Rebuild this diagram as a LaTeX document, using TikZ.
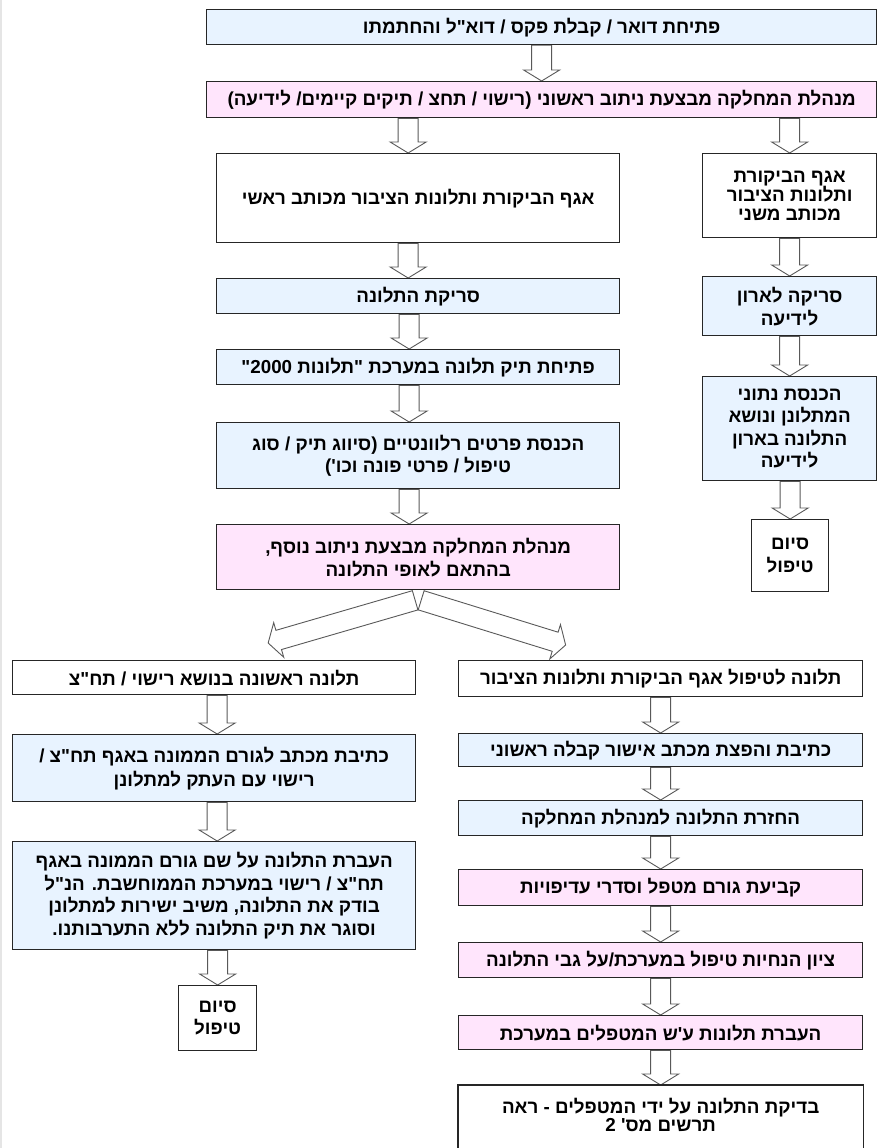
\documentclass[tikz,border=0pt]{standalone}
\usepackage{fontspec}
\newfontfamily\hebfont[Script=Hebrew]{Liberation Sans}
\TeXXeTstate=1
\usepackage{tikz}
\usetikzlibrary{calc, backgrounds}
\definecolor{boxblue}{RGB}{232,243,255}
\definecolor{boxpink}{RGB}{255,229,252}
\newcommand{\rl}[1]{\beginR #1\endR}
\newcommand{\fatarrow}[2]{%
  \path ($(#2)!11pt!(#1)$) coordinate (fa-base);
  \draw[fatline] ($(#1)!10pt!90:(#2)$) -- ($(fa-base)!10pt!90:(#2)$)
    -- ($(fa-base)!18pt!90:(#2)$) -- (#2) -- ($(fa-base)!18pt!-90:(#2)$)
    -- ($(fa-base)!10pt!-90:(#2)$) -- ($(#1)!10pt!-90:(#2)$) -- cycle;}
\newcommand{\flowstep}[3][0]{%
  \path ($(#3.north)+(#1,0)$) coordinate (fa-tip) (fa-tip |- #2.south) coordinate (fa-tail);
  \fatarrow{fa-tail}{fa-tip}}
\tikzset{
  boxline/.style={draw=black!85, line width=1.3pt},
  lines/.style={font=\hebfont\bfseries\fontsize{18.8}{#1}\selectfont},
  box/.style={boxline, anchor=north west, inner sep=2pt, align=center, lines=22.5pt},
  bluebox/.style={box, fill=boxblue},
  pinkbox/.style={box, fill=boxpink},
  fatline/.style={draw=black!65, line width=0.9pt, fill=white}
}

\begin{document}
\begin{tikzpicture}[x=1pt, y=-1pt]
\useasboundingbox (0,0) rectangle (878,1148);
\clip (0,0) rectangle (878,1148);
\draw[black!10, line width=1.5pt] (0.8,0) -- (0.8,1148);

\node[bluebox, minimum width=670pt, minimum height=35pt] (mail) at (206,9)
  {\rl{פתיחת דואר / קבלת פקס / דוא"ל והחתמתו}};
\node[pinkbox, minimum width=670pt, minimum height=36pt] (route) at (206,81)
  {\rl{מנהלת המחלקה מבצעת ניתוב ראשוני (רישוי / תחצ / תיקים קיימים/ לידיעה)}};

\node[box, minimum width=403pt, minimum height=89pt] (main) at (216,153)
  {\rl{אגף הביקורת ותלונות הציבור מכותב ראשי}};
\node[bluebox, minimum width=403pt, minimum height=35pt] (scan) at (216,278)
  {\rl{סריקת התלונה}};
\node[bluebox, minimum width=403pt, minimum height=35pt] (open) at (216,349)
  {\rl{פתיחת תיק תלונה במערכת "תלונות \beginL 2000\endL"}};
\node[bluebox, minimum width=403pt, minimum height=66pt] (details) at (216,422)
  {\rl{הכנסת פרטים רלוונטיים (סיווג תיק / סוג}\\\rl{טיפול / פרטי פונה וכו')}};
\node[pinkbox, lines=23pt, minimum width=403pt, minimum height=65pt] (reroute) at (216,524)
  {\rl{מנהלת המחלקה מבצעת ניתוב נוסף,}\\\rl{בהתאם לאופי התלונה}};

\node[box, lines=18.7pt, minimum width=174pt, minimum height=84pt] (sec) at (702,153)
  {\rl{אגף הביקורת}\\\rl{ותלונות הציבור}\\\rl{מכותב משני}};
\node[bluebox, lines=23pt, minimum width=174pt, minimum height=59pt] (sscan) at (702,276)
  {\rl{סריקה לארון}\\\rl{לידיעה}};
\node[bluebox, minimum width=174pt, minimum height=104pt] (sdata) at (702,376)
  {\rl{הכנסת נתוני}\\\rl{המתלונן ונושא}\\\rl{התלונה בארון}\\\rl{לידיעה}};
\node[box, minimum width=77pt, minimum height=72pt] (send) at (751,519)
  {\rl{סיום}\\\rl{טיפול}};

\node[box, minimum width=403pt, minimum height=34pt] (first) at (12,660)
  {\rl{תלונה ראשונה בנושא רישוי / תח"צ}};
\node[bluebox, lines=24pt, minimum width=403pt, minimum height=67pt] (letter) at (12,734)
  {\rl{כתיבת מכתב לגורם הממונה באגף תח"צ /}\\\rl{רישוי עם העתק למתלונן}};
\node[bluebox, minimum width=403pt, minimum height=108pt] (transfer) at (12,841)
  {\rl{העברת התלונה על שם גורם הממונה באגף}\\\rl{תח"צ / רישוי במערכת הממוחשבת. הנ"ל}\\
   \rl{בודק את התלונה, משיב ישירות למתלונן}\\\rl{וסוגר את תיק התלונה ללא התערבותנו.}};
\node[box, minimum width=78pt, minimum height=65pt] (lend) at (178,985)
  {\rl{סיום}\\\rl{טיפול}};

\node[box, minimum width=404pt, minimum height=36pt] (handle) at (458,660)
  {\rl{תלונה לטיפול אגף הביקורת ותלונות הציבור}};
\node[bluebox, minimum width=404pt, minimum height=33pt] (confirm) at (458,733)
  {\rl{כתיבת והפצת מכתב אישור קבלה ראשוני}};
\node[bluebox, minimum width=404pt, minimum height=35pt] (back) at (458,800)
  {\rl{החזרת התלונה למנהלת המחלקה}};
\node[pinkbox, minimum width=404pt, minimum height=36pt] (assign) at (458,869)
  {\rl{קביעת גורם מטפל וסדרי עדיפויות}};
\node[pinkbox, minimum width=404pt, minimum height=35pt] (note) at (458,942)
  {\rl{ציון הנחיות טיפול במערכת/על גבי התלונה}};
\node[pinkbox, minimum width=404pt, minimum height=34pt] (pass) at (458,1015)
  {\rl{העברת תלונות ע'ש המטפלים במערכת}};
\node[box, draw=none, lines=15pt, minimum width=404pt, minimum height=59pt] (check) at (458,1085)
  {\rl{בדיקת התלונה על ידי המטפלים - ראה}\\\rl{תרשים מס' \beginL 2\endL}};
\draw[boxline] ([yshift=-20pt]check.south west) -- (check.north west)
  -- (check.north east) -- ([yshift=-20pt]check.south east);

\coordinate (forkl) at ($(reroute.south)+(-3,10)$);
\coordinate (forkr) at ($(reroute.south)+(3,10)$);
\coordinate (tipl) at ($(first.north)+(54,-17)$);
\coordinate (tipr) at ($(handle.north)+(-95,-15)$);

\begin{scope}[on background layer]
\flowstep{mail}{route}
\flowstep[-10]{route}{main}
\flowstep{route}{sec}
\flowstep[-10]{main}{scan}
\flowstep[-9]{scan}{open}
\flowstep[-9]{open}{details}
\flowstep[-9]{details}{reroute}
\flowstep{sec}{sscan}
\flowstep{sscan}{sdata}
\flowstep{sdata}{send}
\fatarrow{forkl}{tipl}
\fatarrow{forkr}{tipr}
\flowstep[3]{first}{letter}
\flowstep[3]{letter}{transfer}
\flowstep{transfer}{lend}
\flowstep{handle}{confirm}
\flowstep{confirm}{back}
\flowstep{back}{assign}
\flowstep{assign}{note}
\flowstep{note}{pass}
\flowstep{pass}{check}
\end{scope}
\end{tikzpicture}
\end{document}
